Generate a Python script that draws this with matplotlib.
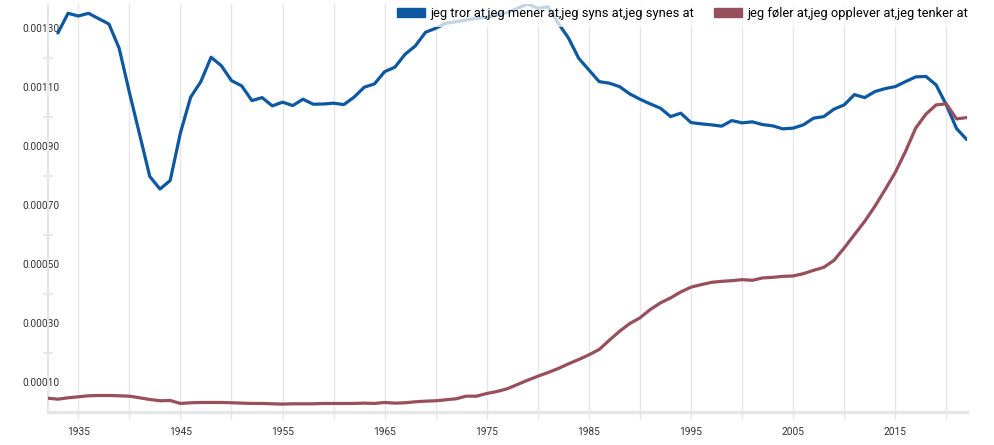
import matplotlib
matplotlib.use("Agg")
import matplotlib.pyplot as plt
import matplotlib.patches as mpatches
import numpy as np

# Relative frequencies, in units of 1e-5
feel_years = list(range(1932, 2023))
feel_values = [
    4.68, 4.34, 4.81, 5.15, 5.49, 5.59, 5.59, 5.49, 5.36,
    4.81, 4.24, 3.80, 3.90, 2.89,
    3.12, 3.22, 3.22, 3.22, 3.12,
    3.00, 2.89, 2.89, 2.78, 2.67,
    2.78, 2.78, 2.78, 2.89, 2.89,
    2.89, 2.90, 3.00, 2.90, 3.22,
    3.00, 3.12, 3.46, 3.67, 3.80,
    4.14, 4.48, 5.36, 5.36, 6.27,
    6.95, 7.86, 9.32, 10.77, 12.13,
    13.38, 14.73, 16.33, 17.78, 19.37,
    21.17, 24.31, 27.36, 29.97, 31.90,
    34.71, 36.97, 38.67, 40.70, 42.32,
    43.17, 43.95, 44.29, 44.52, 44.86,
    44.63, 45.44, 45.64, 45.98, 46.11,
    46.89, 48.01, 49.03, 51.40, 55.59,
    60.10, 64.60, 69.68, 75.33, 81.19,
    88.29, 96.22, 100.96, 104.10, 104.44,
    99.36, 99.80,
]

think_years = list(range(1933, 2023))
think_values = [
    128.48, 135.15, 134.23, 135.15, 133.32, 131.52, 123.30, 108.40,
    94.15, 79.83, 75.57, 78.48, 94.62,
    106.71, 111.99, 120.25, 117.41, 112.33,
    110.54, 105.56, 106.57, 103.76, 105.02,
    103.87, 106.03, 104.34, 104.40, 104.68,
    104.20, 106.71, 110.09, 111.21, 115.38,
    116.87, 121.27, 124.08, 128.71, 130.07,
    131.76, 132.30, 132.88, 133.45, 133.79,
    134.57, 135.35, 136.84, 138.29, 136.84,
    137.38, 131.76, 126.78, 119.91, 115.95,
    111.99, 111.45, 110.30, 107.83, 106.03,
    104.44, 102.99, 100.14, 101.29, 98.11,
    97.67, 97.33, 96.89, 98.79, 98.01,
    98.35, 97.43, 96.99, 95.98, 96.22,
    97.33, 99.60, 100.14, 102.65, 104.10,
    107.59, 106.57, 108.61, 109.62, 110.30,
    111.99, 113.58, 113.75, 110.87, 104.10,
    96.08, 92.36,
]

series_labels = [
    "jeg tror at,jeg mener at,jeg syns at,jeg synes at",
    "jeg føler at,jeg opplever at,jeg tenker at",
]
x_tick_years = list(range(1935, 2021, 5))
x_label_years = list(range(1935, 2016, 10))
y_label_values = [0.0001, 0.0003, 0.0005, 0.0007, 0.0009, 0.0011, 0.0013]
y_minor_values = [0.0002, 0.0004, 0.0006, 0.0008, 0.0010, 0.0012]

BLUE = "#0d58a0"
RED = "#974f5b"
GRID = "#e6e6e6"
TEXT = "#333333"

plt.rcParams['font.family'] = ['Roboto', 'DejaVu Sans']

fig = plt.figure(figsize=(9.95, 4.45), dpi=100)
ax = fig.add_axes([0.0479, 0.0742, 0.9237, 0.9168])

ax.plot(think_years, np.array(think_values) * 1e-5, color=BLUE, lw=2.3,
        solid_joinstyle='round', solid_capstyle='round', zorder=3)
ax.plot(feel_years, np.array(feel_values) * 1e-5, color=RED, lw=2.3,
        solid_joinstyle='round', solid_capstyle='round', zorder=3)

ax.set_xlim(1932, 2022)
ax.set_ylim(0, 0.001383)

# x axis: grid every 5 years, labels every 10
ax.set_xticks(x_tick_years)
ax.set_xticklabels([str(y) if y in x_label_years else '' for y in x_tick_years])
ax.xaxis.grid(True, color=GRID, lw=1.0, zorder=0)
ax.tick_params(axis='x', length=5, width=1.0, color=GRID, labelsize=7.3,
               labelcolor=TEXT, pad=6)

# y axis: labels sit over the axis line, small marks in between
ax.set_yticks(y_label_values)
ax.set_yticklabels([f"{v:.5f}" for v in y_label_values])
ax.set_yticks(y_minor_values, minor=True)
ax.tick_params(axis='y', which='major', length=0, labelsize=7.3,
               labelcolor=TEXT, pad=-8.3)
ax.tick_params(axis='y', which='minor', length=7, width=1.2, color=GRID,
               direction='inout')

for side in ['top', 'right']:
    ax.spines[side].set_visible(False)
ax.spines['bottom'].set_color(GRID)
ax.spines['bottom'].set_linewidth(2.5)
ax.spines['left'].set_color(GRID)
ax.spines['left'].set_linewidth(1.5)

handles = [mpatches.Patch(color=BLUE, label=series_labels[0]),
           mpatches.Patch(color=RED, label=series_labels[1])]
fig.legend(handles=handles, loc='upper right', bbox_to_anchor=(0.98, 1.0),
           ncol=2, frameon=True, framealpha=0.75, facecolor='white',
           edgecolor='none', fancybox=False, fontsize=9.3, handlelength=2.2,
           handleheight=0.6, handletextpad=0.4, columnspacing=1.5,
           borderpad=0.55, borderaxespad=0)

fig.savefig("out.png", dpi=100)
